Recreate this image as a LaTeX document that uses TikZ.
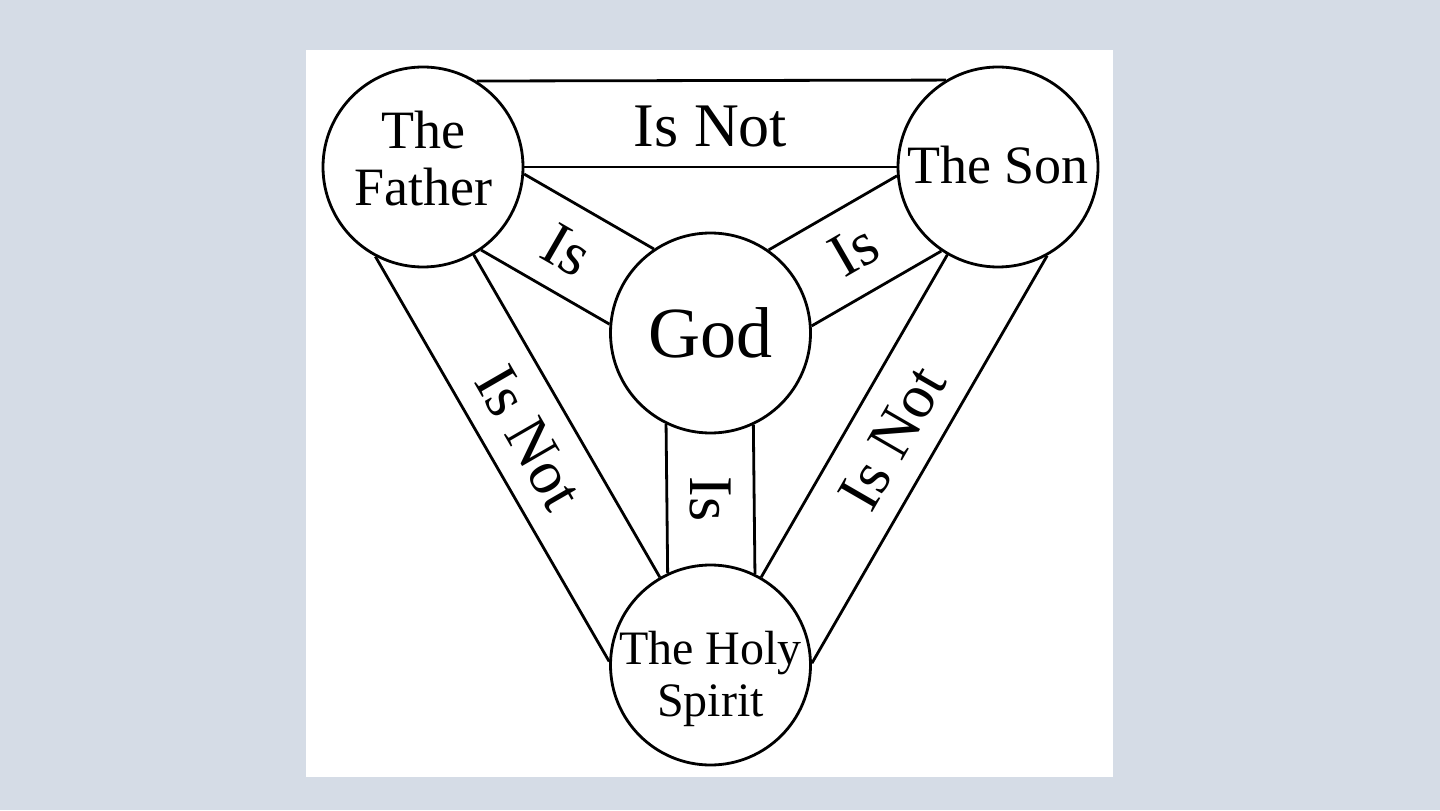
\documentclass[tikz,border=0pt]{standalone}
\usepackage{fontspec}
\setmainfont{Liberation Serif}
\usetikzlibrary{calc}
\definecolor{backdrop}{RGB}{213,220,230}
\tikzset{
  person/.style={circle,draw,line width=1.4pt,minimum size=100pt,inner sep=0pt},
  band/.style={line width=1.4pt},
  word/.style={inner sep=0pt,font=\fontsize{31}{33}\selectfont},
  title/.style={align=center,inner sep=0pt,font=\fontsize{27}{28.5}\selectfont}
}

\begin{document}
\begin{tikzpicture}[x=0.5pt,y=0.5pt]
  \fill[backdrop] (0,0) rectangle (1440,810);
  \fill[white] (306,33) rectangle (1113,760);
  \node[person] (F) at (423,643) {};
  \node[person] (Son) at (998,643) {};
  \node[person] (G) at (710.5,477) {};
  \node[person] (HS) at (710.5,145) {};
  \node[title] (Ft) at ($(F)+(0,8)$) {The\\Father};
  \node[title] (Sont) at ($(Son)+(0,2)$) {The Son};
  \node[title,font=\fontsize{36}{38}\selectfont] (Gt) at (G) {God};
  \node[title,font=\fontsize{24}{26}\selectfont] (HSt) at ($(HS)+(0,-14)$) {The Holy\\Spirit};
  % is not
  \draw[band] (F.0) -- (Son.180);
  \draw[band] (F.58.2) -- (Son.121.8);
  \draw[band] (F.-60) -- (HS.120);
  \draw[band] (F.-118.2) -- (HS.178.2);
  \draw[band] (Son.-120) -- (HS.60);
  \draw[band] (Son.-61.8) -- (HS.1.8);
  % is
  \draw[band] (F.-4.85) -- (G.124.85);
  \draw[band] (F.-55.15) -- (G.175.15);
  \draw[band] (Son.-175.15) -- (G.55.15);
  \draw[band] (Son.-124.85) -- (G.4.85);
  \draw[band] (HS.115.15) -- (G.244.85);
  \draw[band] (HS.64.85) -- (G.295.15);
  % labels
  \node[word] (notFS) at ($(F)!0.5!(Son)+(0,40)$) {Is Not};
  \node[word,rotate=-60] (notFH) at ($(F)!0.5!(HS)+(-150:44)$) {Is Not};
  \node[word,rotate=60] (notSH) at ($(Son)!0.5!(HS)+(-30:44)$) {Is Not};
  \node[word,rotate=-30] (isF) at ($(F)!0.5!(G)$) {Is};
  \node[word,rotate=30] (isS) at ($(Son)!0.5!(G)$) {Is};
  \node[word,rotate=-90] (isH) at ($(HS)!0.5!(G)$) {Is};
\end{tikzpicture}
\end{document}
